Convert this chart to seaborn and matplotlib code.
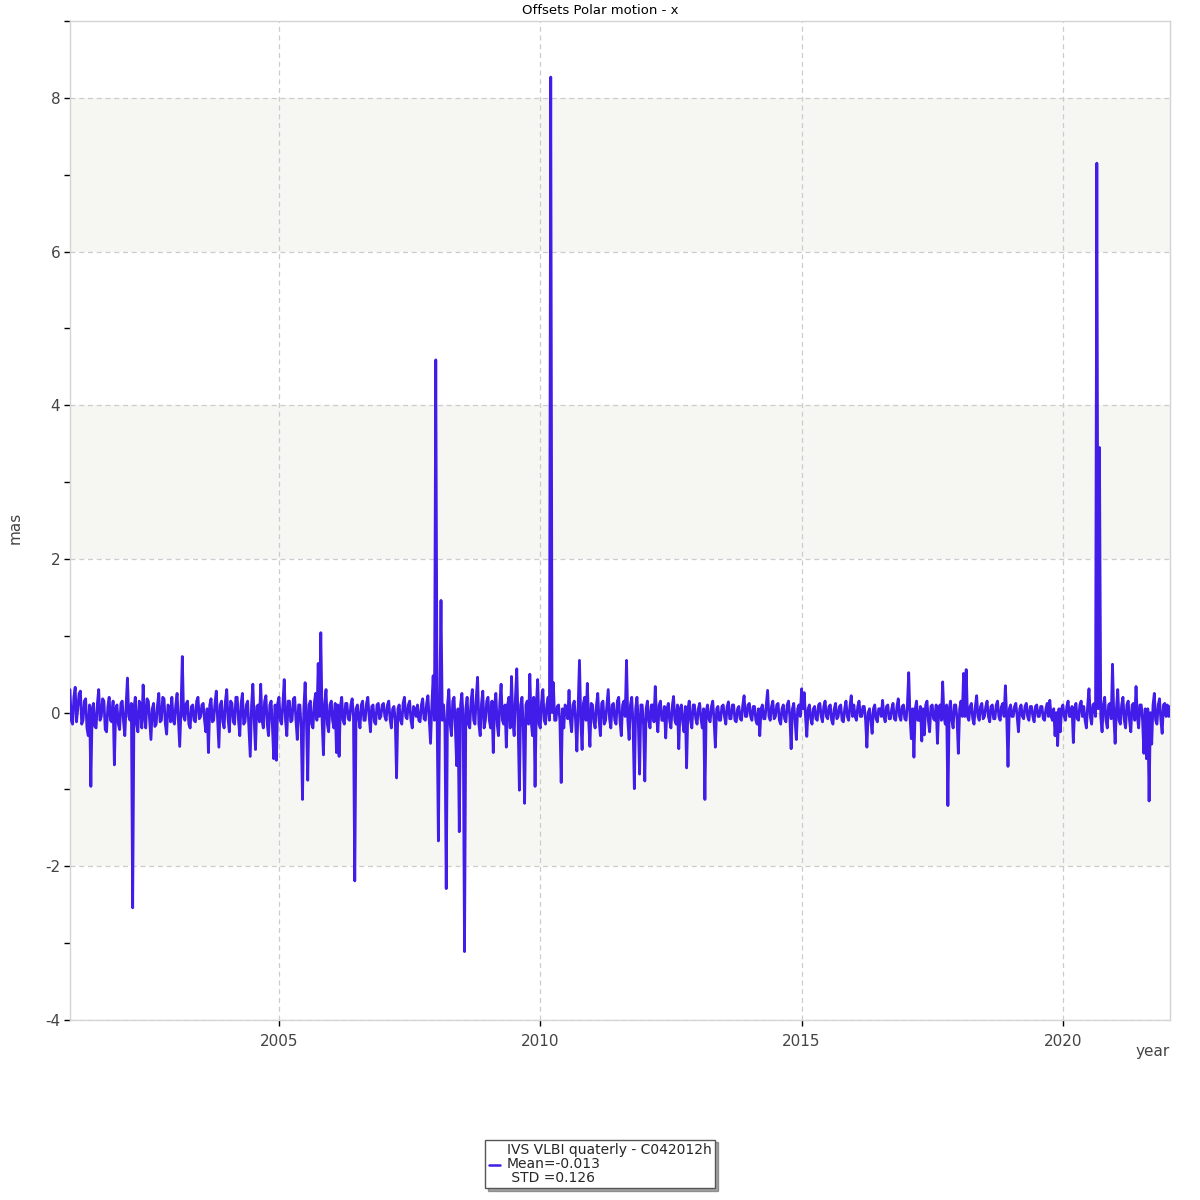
import numpy as np
import pandas as pd
import matplotlib
matplotlib.use("Agg")
import matplotlib.pyplot as plt
from matplotlib.lines import Line2D
import seaborn as sns

# ---- data: offsets (mas), roughly 40 sessions per calendar year ----
v2001 = [0.3, -0.1, -0.15, 0.2, 0.33, -0.12, 0.05, 0.25, 0.28, -0.15, -0.1, 0.15, 0.18, -0.2, -0.3, 0.1, -0.96, 0.05, 0.12, -0.18,
         -0.2, 0.12, 0.3, -0.1, -0.05, 0.18, 0.15, -0.22, -0.25, 0.08, 0.2, -0.1, -0.12, 0.15, -0.68, 0.05, 0.1, -0.15, -0.22, 0.12]
v2002 = [0.15, -0.12, -0.3, 0.1, 0.45, -0.05, -0.1, 0.12, -2.54, 0.05, 0.2, -0.15, -0.25, 0.15, 0.1, -0.2, 0.36, -0.05, -0.2, 0.18,
         0.15, -0.1, -0.35, 0.05, 0.12, -0.18, -0.15, 0.1, 0.25, -0.12, -0.1, 0.2, 0.18, -0.15, -0.28, 0.1, 0.08, -0.12, 0.2, -0.1]
v2003 = [-0.15, 0.1, 0.25, -0.1, -0.44, 0.05, 0.73, -0.05, -0.1, 0.12, 0.15, -0.15, -0.2, 0.08, 0.1, -0.1, -0.12, 0.15, 0.2, -0.08,
         -0.05, 0.1, 0.12, -0.1, -0.25, 0.05, -0.52, 0.1, 0.18, -0.12, -0.1, 0.12, 0.28, -0.08, -0.45, 0.1, 0.15, -0.12, -0.2, 0.15]
v2004 = [0.3, -0.08, -0.25, 0.15, 0.12, -0.12, -0.15, 0.2, 0.2, -0.1, -0.3, 0.12, 0.25, -0.15, -0.12, 0.1, 0.15, -0.2, -0.57, 0.1,
         0.37, -0.1, -0.48, 0.08, 0.1, -0.12, 0.37, -0.1, -0.2, 0.15, 0.22, -0.15, -0.3, 0.1, 0.15, -0.2, -0.6, 0.1, -0.62, 0.12]
v2005 = [0.2, -0.1, -0.15, 0.12, 0.43, -0.1, -0.3, 0.15, 0.15, -0.12, -0.1, 0.18, 0.2, -0.1, -0.35, 0.1, 0.1, -0.2, -1.13, 0.05,
         0.39, -0.1, -0.88, 0.1, 0.15, -0.15, -0.2, 0.12, 0.25, -0.1, 0.64, -0.05, 1.04, -0.1, -0.55, 0.12, 0.3, -0.15, -0.25, 0.1]
v2006 = [0.15, -0.1, -0.2, 0.12, -0.52, 0.1, -0.57, 0.08, 0.2, -0.1, -0.15, 0.12, 0.12, -0.08, -0.1, 0.1, 0.18, -0.05, -2.19, 0.05,
         0.1, -0.08, -0.2, 0.1, 0.15, -0.1, -0.1, 0.12, 0.2, -0.05, -0.25, 0.08, 0.1, -0.12, -0.15, 0.1, 0.12, -0.08, -0.05, 0.1]
v2007 = [0.12, -0.05, -0.1, 0.1, 0.15, -0.08, -0.2, 0.05, 0.08, -0.1, -0.85, 0.05, 0.1, -0.1, -0.15, 0.12, 0.2, -0.05, -0.08, 0.1,
         0.15, -0.1, -0.2, 0.08, 0.05, -0.05, 0.1, -0.1, -0.12, 0.1, 0.18, -0.08, -0.1, 0.12, 0.22, -0.1, -0.4, 0.1, 0.48, -0.1]
v2008 = [4.59, 0.0, -1.67, 0.1, 1.46, -0.1, 0.1, -0.15, -2.29, 0.1, 0.3, -0.15, -0.3, 0.15, 0.2, -0.2, -0.69, 0.05, -1.55, 0.1,
         0.25, -0.1, -3.11, 0.05, 0.2, -0.15, -0.2, 0.15, 0.3, -0.1, -0.15, 0.2, 0.46, -0.15, -0.3, 0.12, 0.28, -0.2, -0.1, 0.15]
v2009 = [0.2, -0.1, -0.2, 0.15, -0.52, 0.1, 0.25, -0.15, -0.3, 0.12, 0.37, -0.1, -0.15, 0.1, -0.45, 0.1, 0.2, -0.2, 0.47, -0.1,
         -0.3, 0.2, 0.57, -0.1, -1.01, 0.1, 0.2, -0.2, -1.18, 0.1, 0.15, -0.15, 0.5, -0.1, -0.3, 0.2, -0.96, 0.1, 0.43, -0.15]
v2010 = [-0.2, 0.15, 0.3, -0.1, -0.15, 0.1, 0.2, -0.1, 8.27, 0.0, 0.39, -0.1, -0.1, 0.08, 0.1, -0.1, -0.91, 0.05, -0.2, 0.1,
         0.05, -0.08, 0.29, -0.1, -0.25, 0.1, 0.15, -0.1, -0.5, 0.1, 0.68, -0.1, -0.48, 0.12, 0.2, -0.1, 0.38, -0.1, -0.44, 0.12]
v2011 = [0.1, -0.12, -0.2, 0.1, 0.25, -0.1, -0.3, 0.12, 0.15, -0.15, -0.1, 0.1, 0.3, -0.08, -0.2, 0.1, 0.12, -0.1, -0.15, 0.15,
         0.2, -0.1, -0.3, 0.1, 0.15, -0.05, 0.68, -0.1, -0.35, 0.1, 0.2, -0.15, -0.99, 0.05, 0.2, -0.1, -0.8, 0.1, 0.1, -0.15]
v2012 = [-0.89, 0.05, 0.15, -0.1, -0.2, 0.1, 0.1, -0.12, 0.34, -0.05, -0.25, 0.1, 0.15, -0.1, -0.1, 0.08, -0.33, 0.05, 0.12, -0.1,
         -0.2, 0.08, 0.21, -0.1, -0.15, 0.1, -0.47, 0.05, 0.1, -0.12, -0.25, 0.08, -0.72, 0.05, 0.15, -0.1, -0.2, 0.1, 0.1, -0.08]
v2013 = [-0.15, 0.05, 0.12, -0.08, -0.2, 0.05, -1.13, 0.02, 0.1, -0.08, -0.12, 0.08, 0.15, -0.1, -0.45, 0.05, 0.08, -0.1, -0.1, 0.08,
         0.1, -0.05, -0.15, 0.08, 0.14, -0.08, -0.08, 0.1, 0.1, -0.1, -0.12, 0.05, 0.08, -0.08, -0.1, 0.1, 0.22, -0.05, -0.05, 0.1]
v2014 = [0.12, -0.05, -0.1, 0.08, 0.08, -0.1, -0.15, 0.05, -0.3, 0.05, 0.1, -0.08, -0.08, 0.1, 0.29, -0.05, -0.1, 0.08, 0.15, -0.08,
         -0.05, 0.1, 0.12, -0.1, -0.15, 0.05, 0.1, -0.08, -0.12, 0.1, 0.15, -0.05, -0.47, 0.05, 0.12, -0.1, -0.35, 0.05, 0.1, -0.05]
v2015 = [0.31, 0.05, 0.26, -0.05, -0.31, 0.05, 0.1, -0.08, -0.15, 0.05, 0.08, -0.08, -0.1, 0.1, 0.12, -0.05, -0.12, 0.08, 0.15, -0.05,
         -0.08, 0.08, 0.1, -0.1, -0.15, 0.05, 0.12, -0.08, -0.05, 0.08, 0.1, -0.1, -0.12, 0.05, 0.15, -0.05, -0.1, 0.08, 0.22, -0.05]
v2016 = [0.1, -0.05, -0.1, 0.08, 0.15, -0.05, -0.05, 0.08, 0.08, -0.1, -0.45, 0.0, 0.05, -0.1, -0.27, 0.05, 0.1, -0.08, -0.12, 0.05,
         0.05, -0.05, 0.16, -0.05, -0.12, 0.08, 0.1, -0.08, -0.08, 0.05, 0.12, -0.08, -0.1, 0.08, 0.18, -0.05, -0.1, 0.08, 0.1, -0.08]
v2017 = [-0.1, 0.1, 0.52, -0.05, -0.34, 0.05, -0.58, 0.05, 0.15, -0.1, -0.1, 0.08, -0.37, 0.05, -0.29, 0.1, 0.15, -0.1, -0.25, 0.08,
         0.1, -0.08, -0.1, 0.1, -0.4, 0.05, 0.1, -0.1, 0.4, -0.05, -0.15, 0.1, -1.21, 0.05, 0.15, -0.1, -0.2, 0.1, 0.1, -0.08]
v2018 = [-0.53, 0.05, 0.15, -0.05, 0.51, -0.05, 0.56, -0.05, -0.1, 0.08, 0.12, -0.08, -0.15, 0.08, 0.22, -0.05, -0.1, 0.08, 0.12, -0.08,
         -0.05, 0.08, 0.15, -0.05, -0.12, 0.08, 0.1, -0.08, -0.08, 0.1, 0.15, -0.05, -0.1, 0.08, 0.12, -0.05, 0.35, -0.05, -0.7, 0.05]
v2019 = [0.1, -0.05, -0.05, 0.08, 0.12, -0.05, -0.25, 0.05, 0.1, -0.05, -0.08, 0.08, 0.12, -0.05, -0.1, 0.08, 0.08, -0.05, -0.12, 0.08,
         0.1, -0.05, -0.05, 0.08, 0.08, -0.08, -0.1, 0.05, 0.12, -0.05, 0.16, -0.05, -0.1, 0.05, -0.3, 0.0, -0.43, 0.05, -0.25, 0.05]
v2020 = [0.1, -0.05, -0.1, 0.08, 0.15, -0.05, -0.05, 0.08, -0.39, 0.05, 0.12, -0.08, -0.1, 0.1, 0.15, -0.05, 0.08, -0.1, -0.2, 0.1,
         0.31, -0.05, -0.15, 0.1, 0.12, -0.05, 7.15, 0.05, 3.45, -0.05, -0.25, 0.1, 0.2, -0.1, -0.2, 0.1, 0.12, -0.08, 0.63, -0.05]
v2021 = [-0.4, 0.05, 0.3, -0.1, -0.15, 0.1, 0.2, -0.1, -0.2, 0.1, 0.15, -0.1, -0.25, 0.1, 0.12, -0.1, 0.34, -0.05, -0.2, 0.1,
         0.1, -0.1, -0.53, 0.05, -0.6, 0.05, -1.15, 0.0, -0.41, 0.1, 0.25, -0.1, -0.15, 0.1, 0.18, -0.1, -0.27, 0.1, 0.12, -0.05]
v2022 = [0.1, -0.05, 0.08]

years = list(range(2001, 2023))
yearly = [v2001, v2002, v2003, v2004, v2005, v2006, v2007, v2008, v2009, v2010, v2011,
          v2012, v2013, v2014, v2015, v2016, v2017, v2018, v2019, v2020, v2021, v2022]

title_text = "Offsets Polar motion - x"
legend_label = "IVS VLBI quaterly - C042012h\nMean=-0.013\n STD =0.126"
yticks_major = [-4, -2, 0, 2, 4, 6, 8]
xticks_major = [2005, 2010, 2015, 2020]

# ---- build table ----
xs, ys = [], []
for yr, vals in zip(years, yearly):
    n = max(len(vals), 40)
    for i, v in enumerate(vals):
        xs.append(yr + i / n)
        ys.append(v)
df = pd.DataFrame({"year": xs, "mas": ys})

sns.set_theme(style="white")
plt.rcParams["font.family"] = ["DejaVu Sans"]

fig = plt.figure(figsize=(12, 12), dpi=100)
ax = fig.add_axes([0.0583, 0.15, 0.9167, 0.8325])

# alternating bands
for lo in (-2, 2, 6):
    ax.axhspan(lo, lo + 2, color="#F6F6F3", zorder=0, lw=0)

line_color = "#421CE8"
sns.lineplot(data=df, x="year", y="mas", ax=ax, color=line_color, lw=2.0,
             estimator=None, sort=False, zorder=3)

ax.set_xlim(2001.0, 2022.05)
ax.set_ylim(-4, 9)
ax.set_yticks(yticks_major)
ax.set_yticks([-3, -1, 1, 3, 5, 7, 9], minor=True)
ax.set_xticks(xticks_major)
ax.set_xticklabels([str(t) for t in xticks_major])
ax.set_yticklabels([str(t) for t in yticks_major])

ax.grid(True, which="major", color="#CCCCCC", linestyle=(0, (4, 3)), lw=0.9, zorder=1)
ax.set_axisbelow(True)
for s in ax.spines.values():
    s.set_color("#D4D4D4")
    s.set_linewidth(1.0)

ax.tick_params(axis="both", which="major", direction="out", length=4, width=1,
               color="black", labelcolor="#444444", labelsize=11, pad=3,
               left=True, bottom=True)
ax.tick_params(axis="x", which="major", pad=6)
ax.tick_params(axis="y", which="minor", direction="out", length=4, width=1,
               color="black", left=True)

ax.set_xlabel("")
ax.set_ylabel("")
fig.text(0.0125, 0.56, "mas", rotation=90, ha="center", va="center",
         fontsize=11, color="#444444")
fig.text(0.975, 0.124, "year", ha="right", va="center", fontsize=11, color="#444444")
fig.text(0.5, 0.9915, title_text, ha="center", va="center", fontsize=9.5, color="black")

h = Line2D([0], [0], color=line_color, lw=1.8)
leg = fig.legend([h], [legend_label], loc="center", bbox_to_anchor=(0.5, 0.03),
                 fontsize=10, frameon=True, fancybox=False, shadow=True,
                 handlelength=0.8, handletextpad=0.5, borderpad=0.25,
                 borderaxespad=0)
leg.get_frame().set_edgecolor("#555555")
leg.get_frame().set_linewidth(1.0)
for t in leg.get_texts():
    t.set_linespacing(1.0)

fig.savefig("out.png", dpi=100)
